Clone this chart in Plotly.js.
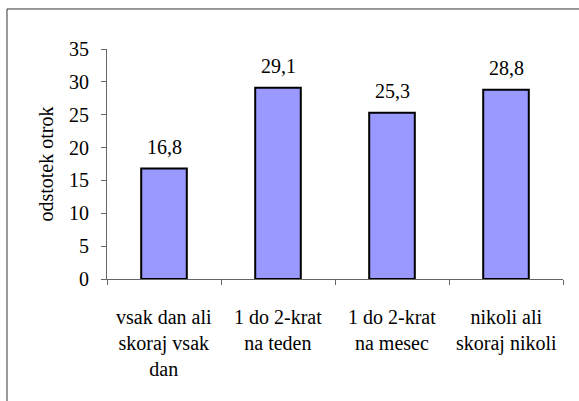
<!DOCTYPE html>
<html>
<head>
<meta charset="utf-8">
<script src="https://cdn.plot.ly/plotly-3.0.1.min.js"></script>
<style>
html,body{margin:0;padding:0;background:#fff;}
#chart svg text{font-family:"Times New Roman","Liberation Serif","DejaVu Serif" !important;}
</style>
</head>
<body>
<div id="chart" style="width:579px;height:401px"></div>
<script>
const categories = ["vsak dan ali<br>skoraj vsak<br>dan", "1 do 2-krat<br>na teden", "1 do 2-krat<br>na mesec", "nikoli ali<br>skoraj nikoli"];
const values = [16.8, 29.1, 25.3, 28.8];
const valueLabels = ["16,8", "29,1", "25,3", "28,8"];
const yTickVals = [0, 5, 10, 15, 20, 25, 30, 35];
const yTickLabels = ["0", "5", "10", "15", "20", "25", "30", "35"];
const yTitle = "odstotek otrok";

const FONT = "Times New Roman";

const trace = {
  type: "bar",
  x: categories,
  y: values,
  width: 0.4,
  marker: {color: "#9999ff", line: {color: "#000000", width: 2}},
  hoverinfo: "none"
};

const valueAnnotations = categories.map((c, i) => ({
  x: c, y: values[i], xref: "x", yref: "y",
  text: valueLabels[i], showarrow: false,
  yanchor: "bottom", yshift: 9,
  font: {family: FONT, size: 20, color: "#000"}
}));

const categoryAnnotations = categories.map((c) => ({
  x: c, y: -0.1087, xref: "x", yref: "paper",
  text: c, showarrow: false,
  xanchor: "center", yanchor: "top", align: "center",
  font: {family: FONT, size: 20, color: "#000"}
}));

const yTickAnnotations = yTickVals.map((v, i) => ({
  x: -0.0351, y: v, xref: "paper", yref: "y",
  text: yTickLabels[i], showarrow: false,
  xanchor: "right", yanchor: "middle",
  font: {family: FONT, size: 20, color: "#000"}
}));

const titleAnnotation = {
  x: -0.1338, y: 0.502, xref: "paper", yref: "paper",
  text: yTitle, showarrow: false, textangle: -90,
  xanchor: "center", yanchor: "middle",
  font: {family: FONT, size: 20, color: "#000"}
};

const layout = {
  width: 579, height: 401,
  margin: {l: 107, r: 16, t: 49, b: 122, pad: 0},
  paper_bgcolor: "#fff", plot_bgcolor: "#fff",
  font: {family: FONT, size: 20, color: "#000"},
  showlegend: false,
  xaxis: {
    type: "category",
    showline: true, linecolor: "#666", linewidth: 1,
    ticks: "outside", tickson: "boundaries", ticklen: 5, tickcolor: "#666",
    showgrid: false, zeroline: false,
    showticklabels: false,
    fixedrange: true
  },
  yaxis: {
    range: [0, 35], tickvals: yTickVals,
    showline: true, linecolor: "#666", linewidth: 1,
    ticks: "outside", ticklen: 5, tickcolor: "#666",
    showgrid: false, zeroline: false,
    showticklabels: false,
    fixedrange: true
  },
  annotations: valueAnnotations.concat(categoryAnnotations, yTickAnnotations, [titleAnnotation]),
  shapes: [{
    type: "rect", xref: "paper", yref: "paper",
    x0: -0.2193, x1: 1.2, y0: -0.7, y1: 1.174,
    line: {color: "#333", width: 1}, fillcolor: "rgba(0,0,0,0)", layer: "below"
  }]
};

Plotly.newPlot("chart", [trace], layout, {displayModeBar: false, staticPlot: true});
</script>
</body>
</html>
